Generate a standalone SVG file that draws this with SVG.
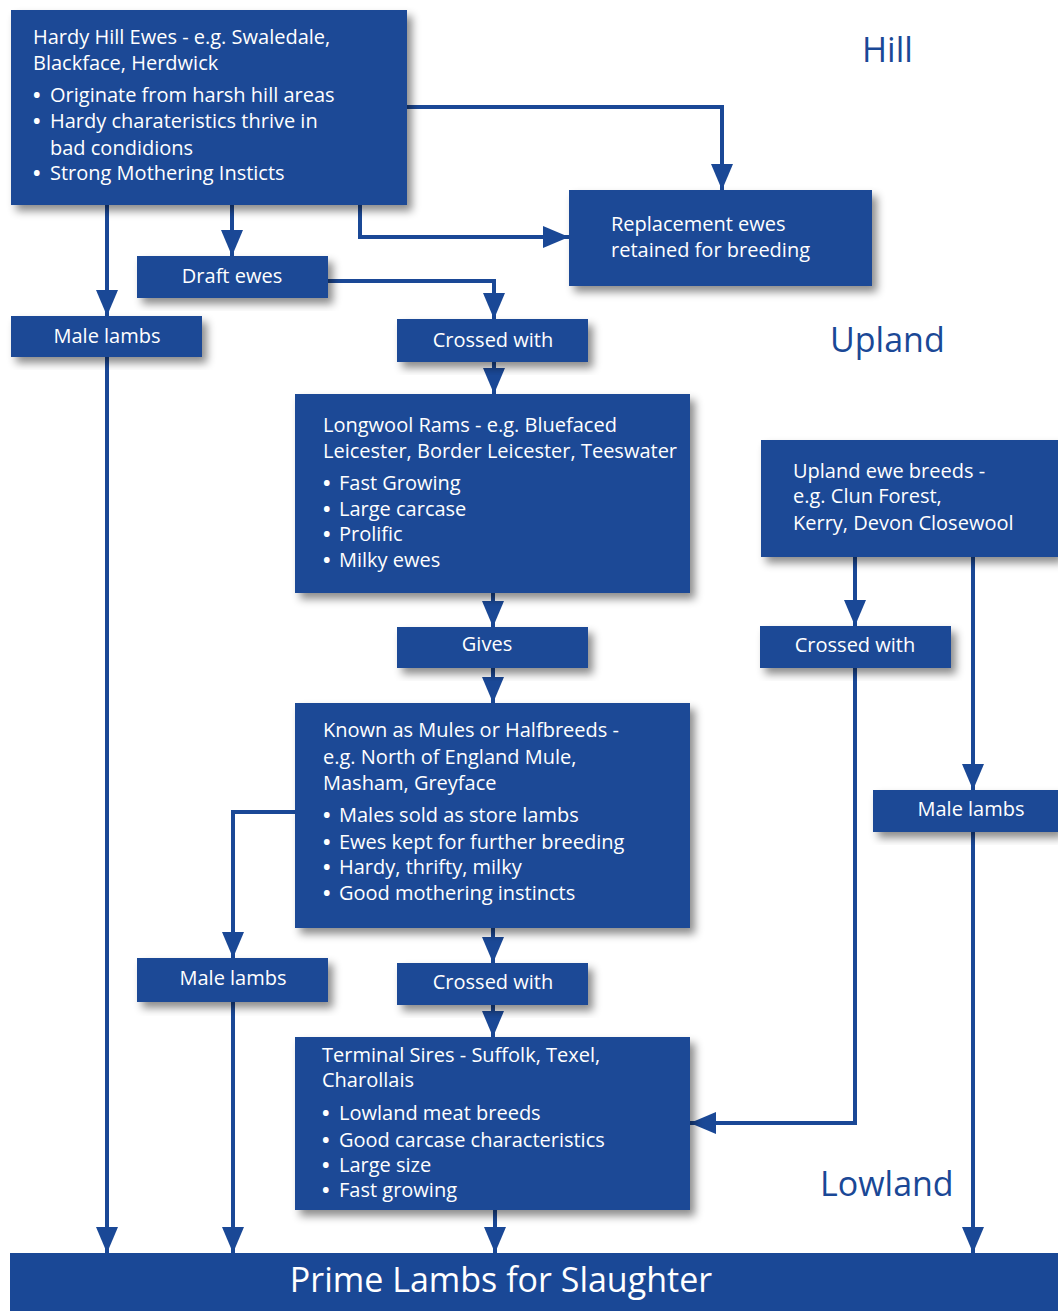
<svg xmlns="http://www.w3.org/2000/svg" width="1058" height="1311" viewBox="0 0 1058 1311">
<style>
.box{fill:#1a4896;filter:url(#sh)}
.bar{fill:#1a4896}
.t{font-family:"Open Sans","Noto Sans","Liberation Sans",sans-serif;font-size:20px;fill:#ffffff}
.b{font-weight:bold}
.c{text-anchor:middle}
.region{font-family:"Open Sans","Noto Sans","Liberation Sans",sans-serif;font-size:34px;fill:#1a4896}
.big{font-family:"Open Sans","Noto Sans","Liberation Sans",sans-serif;font-size:34px;fill:#ffffff;text-anchor:middle}
.ln{fill:none;stroke:#1a4896;stroke-width:4}
.arr{marker-end:url(#ah)}
</style>
<defs>
<filter id="sh" x="-10%" y="-10%" width="130%" height="140%">
<feDropShadow dx="5" dy="6" stdDeviation="4" flood-color="#000" flood-opacity="0.45"/>
</filter>
<marker id="ah" viewBox="0 0 26 22" markerUnits="userSpaceOnUse" markerWidth="26" markerHeight="22" refX="26" refY="11" orient="auto">
<path d="M0,0 L26,11 L0,22 z" fill="#1a4896"/>
</marker>
</defs>
<rect width="1058" height="1311" fill="#ffffff"/>

<g id="region-labels">
<text class="region" x="862" y="62">Hill</text>
<text class="region" x="830" y="352">Upland</text>
<text class="region" x="820" y="1196">Lowland</text>
</g>

<g id="connectors">
<path class="ln arr" d="M107,205 V316"/>
<path class="ln arr" d="M107,357 V1253"/>
<path class="ln arr" d="M232,205 V256"/>
<path class="ln arr" d="M360,205 V237 H569"/>
<path class="ln arr" d="M407,107 H722 V190"/>
<path class="ln arr" d="M328,281 H494 V319"/>
<path class="ln arr" d="M494,362 V394"/>
<path class="ln arr" d="M493,593 V627"/>
<path class="ln arr" d="M493,668 V703"/>
<path class="ln arr" d="M295,812 H233 V958"/>
<path class="ln arr" d="M233,1002 V1253"/>
<path class="ln arr" d="M493,928 V963"/>
<path class="ln arr" d="M493,1005 V1037"/>
<path class="ln arr" d="M495,1210 V1253"/>
<path class="ln arr" d="M855,557 V626"/>
<path class="ln arr" d="M855,668 V1123 H690"/>
<path class="ln arr" d="M973,557 V790"/>
<path class="ln arr" d="M973,832 V1253"/>
</g>

<g id="hardy-hill-ewes">
<rect class="box" x="11" y="10" width="396" height="195"/>
<text class="t" x="33" y="44">Hardy Hill Ewes - e.g. Swaledale,</text>
<text class="t" x="33" y="70">Blackface, Herdwick</text>
<text class="t" y="102"><tspan class="b" x="33">•</tspan><tspan x="50">Originate from harsh hill areas</tspan></text>
<text class="t" y="128"><tspan class="b" x="33">•</tspan><tspan x="50">Hardy charateristics thrive in</tspan></text>
<text class="t" x="50" y="155">bad condidions</text>
<text class="t" y="180"><tspan class="b" x="33">•</tspan><tspan x="50">Strong Mothering Insticts</tspan></text>
</g>

<g id="replacement-ewes">
<rect class="box" x="569" y="190" width="303" height="96"/>
<text class="t" x="611" y="231">Replacement ewes</text>
<text class="t" x="611" y="257">retained for breeding</text>
</g>

<g id="draft-ewes">
<rect class="box" x="137" y="256" width="191" height="42"/>
<text class="t c" x="232" y="283">Draft ewes</text>
</g>

<g id="male-lambs-hill">
<rect class="box" x="11" y="316" width="191" height="41"/>
<text class="t c" x="107" y="343">Male lambs</text>
</g>

<g id="crossed-with-1">
<rect class="box" x="397" y="319" width="191" height="43"/>
<text class="t c" x="493" y="347">Crossed with</text>
</g>

<g id="longwool-rams">
<rect class="box" x="295" y="394" width="395" height="199"/>
<text class="t" x="323" y="432">Longwool Rams - e.g. Bluefaced</text>
<text class="t" x="323" y="458">Leicester, Border Leicester, Teeswater</text>
<text class="t" y="490"><tspan class="b" x="323">•</tspan><tspan x="339">Fast Growing</tspan></text>
<text class="t" y="516"><tspan class="b" x="323">•</tspan><tspan x="339">Large carcase</tspan></text>
<text class="t" y="541"><tspan class="b" x="323">•</tspan><tspan x="339">Prolific</tspan></text>
<text class="t" y="567"><tspan class="b" x="323">•</tspan><tspan x="339">Milky ewes</tspan></text>
</g>

<g id="gives">
<rect class="box" x="397" y="627" width="191" height="41"/>
<text class="t c" x="487" y="651">Gives</text>
</g>

<g id="mules">
<rect class="box" x="295" y="703" width="395" height="225"/>
<text class="t" x="323" y="737">Known as Mules or Halfbreeds -</text>
<text class="t" x="323" y="764">e.g. North of England Mule,</text>
<text class="t" x="323" y="790">Masham, Greyface</text>
<text class="t" y="822"><tspan class="b" x="323">•</tspan><tspan x="339">Males sold as store lambs</tspan></text>
<text class="t" y="849"><tspan class="b" x="323">•</tspan><tspan x="339">Ewes kept for further breeding</tspan></text>
<text class="t" y="874"><tspan class="b" x="323">•</tspan><tspan x="339">Hardy, thrifty, milky</tspan></text>
<text class="t" y="900"><tspan class="b" x="323">•</tspan><tspan x="339">Good mothering instincts</tspan></text>
</g>

<g id="male-lambs-mules">
<rect class="box" x="137" y="958" width="191" height="44"/>
<text class="t c" x="233" y="985">Male lambs</text>
</g>

<g id="crossed-with-2">
<rect class="box" x="397" y="963" width="191" height="42"/>
<text class="t c" x="493" y="989">Crossed with</text>
</g>

<g id="terminal-sires">
<rect class="box" x="295" y="1037" width="395" height="173"/>
<text class="t" x="322" y="1062">Terminal Sires - Suffolk, Texel,</text>
<text class="t" x="322" y="1087">Charollais</text>
<text class="t" y="1120"><tspan class="b" x="322">•</tspan><tspan x="339">Lowland meat breeds</tspan></text>
<text class="t" y="1147"><tspan class="b" x="322">•</tspan><tspan x="339">Good carcase characteristics</tspan></text>
<text class="t" y="1172"><tspan class="b" x="322">•</tspan><tspan x="339">Large size</tspan></text>
<text class="t" y="1197"><tspan class="b" x="322">•</tspan><tspan x="339">Fast growing</tspan></text>
</g>

<g id="upland-ewe-breeds">
<rect class="box" x="761" y="440" width="297" height="117"/>
<text class="t" x="793" y="478">Upland ewe breeds -</text>
<text class="t" x="793" y="503">e.g. Clun Forest,</text>
<text class="t" x="793" y="530">Kerry, Devon Closewool</text>
</g>

<g id="crossed-with-upland">
<rect class="box" x="760" y="626" width="191" height="42"/>
<text class="t c" x="855" y="652">Crossed with</text>
</g>

<g id="male-lambs-upland">
<rect class="box" x="873" y="790" width="185" height="42"/>
<text class="t c" x="971" y="816">Male lambs</text>
</g>

<g id="prime-lambs">
<rect class="bar" x="10" y="1253" width="1048" height="58"/>
<text class="big" x="501" y="1292">Prime Lambs for Slaughter</text>
</g>
</svg>
